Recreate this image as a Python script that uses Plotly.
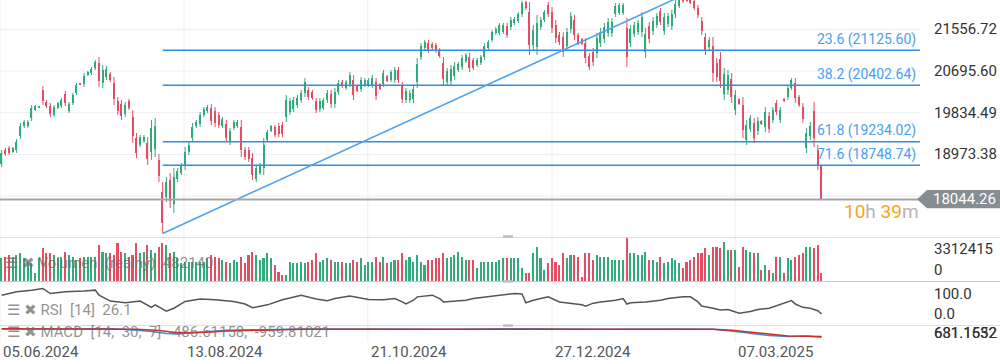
import plotly.graph_objects as go

# ---------------- data ----------------
TICK_LABELS = ["05.06.2024", "13.08.2024", "21.10.2024", "27.12.2024", "07.03.2025"]
TICK_POS = [-0.45, 48.7, 97.8, 147.0, 195.9]

OPEN = [18775,19065,19106,19023,19065,19354,19560,19560,19725,19890,19940,20304,20056,19973,19787,19932,19973,20221,19870,20035,
        20242,20440,20427,20613,20655,20758,20861,20448,20572,20634,20448,20076,20014,19808,20076,19746,19312,19168,19250,19209,
        19023,19085,18858,18197,18094,18445,17949,18466,18590,18755,19023,19312,19560,19601,19787,19870,19932,19870,19787,19560,
        19601,19230,19519,19560,19539,19065,19065,18899,18466,18590,18693,19271,19457,19539,19560,19581,19746,19849,19911,19994,
        20097,20242,20304,20262,20076,19911,19932,20097,20221,20014,20262,20469,20345,20427,20510,20386,20324,20407,20407,20407,
        20469,20427,20427,20593,20510,20510,20717,20386,20097,20097,20118,20469,20985,21171,21274,21253,21233,21130,20861,20469,
        20489,20593,20717,20778,20902,20985,20923,20820,20861,20985,21171,21336,21481,21481,21501,21625,21604,21687,21728,21873,
        22121,21914,21233,21191,21604,21749,22059,21914,21646,21439,21398,21212,21563,21749,21439,21357,21274,21006,21088,21068,
        21274,21357,21481,21481,21873,21894,21894,21584,21274,21460,21501,21501,21088,21625,21522,21646,21935,21522,21666,21625,
        21873,22038,22230,22250,22200,22140,21997,21728,21398,21191,21212,20861,20944,20221,20304,20531,19890,20118,19994,19271,
        19498,19622,19457,19663,19539,19767,19684,20035,19684,20118,20159,20345,20448,20159,19952,19106,19354,19870,19065,18734]
HIGH = [19065,19106,19147,19127,19292,19622,19684,19684,19994,19994,19973,20386,20097,20035,19994,20056,20138,20283,20056,20242,
        20448,20448,20655,20696,20778,20923,20985,20820,20799,20675,20572,20159,20097,20056,20118,19890,19415,19374,19374,19333,
        19684,19725,18982,18404,18507,18590,18693,18693,18796,19127,19230,19622,19684,19849,19952,19994,20014,19952,19849,19746,
        19684,19519,19684,19684,19684,19127,19127,19003,18755,18796,19312,19477,19581,19581,19622,19643,20200,20138,20159,20200,
        20304,20551,20366,20304,20138,20138,20138,20304,20304,20345,20510,20510,20510,20675,20613,20407,20572,20551,20551,20613,
        20551,20448,20717,20613,20717,20778,20778,20469,20345,20304,20407,20964,21274,21336,21336,21295,21274,21171,20985,20758,
        20820,20882,20882,21026,21068,21068,20964,20964,21026,21274,21336,21542,21604,21687,21687,21687,21811,21811,21914,22150,
        22150,22121,21646,21852,21811,21956,22121,22017,21749,21501,21501,21584,21914,21852,21481,21377,21377,21068,21171,21481,
        21584,21687,21790,21790,22100,22100,22100,21790,21646,21708,21749,21914,21584,21708,21811,21894,21997,21894,21894,21956,
        22162,22224,22265,22294,22245,22183,22059,21811,21481,21398,21398,20964,21088,20758,20717,20655,20304,20138,20159,19684,
        19787,19725,19746,19684,19952,19849,19952,20097,19952,20138,20407,20551,20551,20200,20035,19519,19643,20056,19168,18755]
LOW = [18713,18941,18961,19003,19003,19292,19519,19519,19663,19870,19932,19994,19932,19746,19746,19911,19932,19973,19828,19994,
       20200,20407,20366,20593,20613,20717,20366,20345,20510,20469,19994,19787,19684,19746,19890,19209,18899,19127,19209,18755,
       18858,18920,18404,17342,17991,17866,17763,18404,18548,18652,18961,19230,19519,19539,19746,19828,19581,19539,19519,19519,
       19230,19168,19477,19519,18920,18858,18817,18445,18404,18548,18548,19230,19436,19333,19333,19333,19643,19787,19849,19932,
       20035,20159,20097,20097,19828,19849,19890,20035,19932,19932,20200,20345,20304,20366,20097,20262,20262,20366,20366,20345,
       20097,20304,20366,20469,20469,20448,20448,20035,20035,20035,20035,20345,20923,21130,21068,21130,21068,20964,20407,20407,
       20407,20510,20675,20717,20861,20675,20717,20778,20820,20923,21130,21295,21439,21439,21460,21377,21542,21646,21687,21811,
       21956,21026,21130,21026,21542,21708,21811,21481,21274,21233,20985,21130,21481,21336,21233,21233,20861,20717,20799,20964,
       21191,21274,21398,21398,21811,21852,21852,20778,21191,21398,21439,21398,20964,21274,21439,21584,21646,21439,21604,21542,
       21790,21997,22100,22121,22079,21956,21790,21439,21026,21130,20469,20469,20345,20097,20200,20035,19787,19994,19312,19168,
       19436,19209,19374,19581,19436,19415,19622,19787,19622,20056,20097,20304,20035,19952,19622,19003,19271,19127,18652,18044.26]
CLOSE = [19003,18982,19003,19106,19230,19560,19643,19643,19932,19973,19965,20076,19973,19808,19952,20035,20097,20035,20014,20200,
         20407,20415,20593,20675,20737,20882,20489,20717,20737,20510,20118,19870,19767,19994,19932,19354,19003,19333,19333,18879,
         19519,19560,18528,17557,18404,18011,18507,18631,18755,19023,19168,19539,19643,19787,19911,19952,19663,19622,19581,19705,
         19312,19457,19643,19643,19065,18920,18879,18548,18693,18755,19168,19436,19560,19374,19395,19395,20097,20076,20097,20138,
         20242,20469,20159,20138,19890,20076,20097,20242,20014,20262,20448,20386,20469,20613,20200,20283,20510,20510,20510,20551,
         20180,20324,20655,20489,20675,20717,20510,20118,20283,20242,20324,20840,21212,21295,21130,21171,21109,21006,20531,20696,
         20737,20799,20840,20964,21026,20758,20758,20923,20985,21212,21295,21501,21563,21646,21646,21439,21749,21770,21873,22100,
         21997,21233,21542,21687,21749,21914,21873,21584,21377,21295,21088,21501,21832,21439,21274,21253,20964,20778,20882,21377,
         21501,21604,21708,21708,22038,22059,22059,20985,21563,21646,21687,21811,21460,21357,21728,21832,21708,21811,21832,21873,
         22079,22183,22140,22150,22100,21997,21852,21522,21109,21336,20655,20572,20489,20634,20613,20159,20200,20014,19477,19581,
         19725,19312,19663,19601,19849,19498,19890,19849,19890,20076,20345,20510,20138,19994,19705,19415,19560,19312,18755,18044.26]

VOLUME = [1746000,1875000,2003000,1875000,2003000,2131000,1746000,1489000,1361000,590000,1746000,2516000,2131000,2131000,2003000,1746000,1875000,2260000,2003000,1875000,
          1618000,1746000,1875000,1875000,1875000,1875000,2773000,2260000,2131000,2131000,2003000,2902000,2260000,2131000,1875000,2003000,2902000,2131000,2260000,2773000,
          2388000,2131000,2645000,2902000,2773000,2131000,2260000,1746000,1361000,1489000,1489000,1489000,1489000,1489000,1489000,1746000,2003000,1875000,1746000,1618000,
          1489000,1361000,1618000,1489000,1875000,1361000,2003000,2260000,2003000,1618000,1746000,2131000,1746000,1233000,719000,462000,462000,1489000,1361000,1361000,
          1489000,1361000,1489000,1618000,2131000,1489000,1618000,1746000,1618000,1489000,1489000,1489000,1361000,1361000,1618000,1489000,1746000,1233000,1489000,1489000,
          1875000,1489000,1875000,1361000,1489000,1618000,1618000,2131000,1618000,1875000,1489000,2003000,1489000,1233000,1618000,1618000,1746000,1746000,2131000,1746000,
          1875000,2003000,2260000,1875000,1618000,1618000,1618000,976000,1489000,1489000,1489000,1489000,1489000,1618000,1746000,1746000,1746000,1746000,1746000,976000,
          591000,591000,2131000,2645000,1746000,847000,1361000,1746000,1489000,1233000,2131000,1746000,2003000,2003000,1875000,334000,2131000,2131000,1618000,2003000,
          1875000,1875000,1875000,1618000,1618000,1618000,1618000,3287000,2131000,2131000,2003000,2003000,2260000,1618000,1618000,1489000,1875000,1361000,1489000,1746000,
          1618000,1361000,976000,1489000,1618000,1875000,2131000,2131000,2516000,2003000,2645000,2645000,2516000,3030000,2388000,2388000,2388000,1104000,2645000,2388000,
          2260000,2131000,2131000,847000,1233000,847000,591000,1875000,1875000,591000,1746000,1618000,1875000,2003000,2131000,2645000,2645000,2516000,2773000,591000]

RSI_X = [0,4,8,11,13,17,22,25,26,29,33,37,40,41,44,46,49,53,57,62,65,67,71,75,80,84,87,89,93,98,102,105,107,108,110,111,115,117,118,
         122,124,126,130,133,137,139,140,142,146,149,151,155,156,158,160,164,166,167,168,172,176,178,182,184,186,187,190,192,194,197,
         200,202,205,209,211,212,214,216,218,219]
RSI_V = [71,79,83,87,75,79,81,83,71,57,53,57,42,48,33,40,56,62,60,56,50,41,48,60,71,62,58,63,69,61,60,63,55,50,59,67,71,63,55,
         58,59,63,67,71,75,74,53,59,67,55,53,48,45,52,55,59,63,50,53,55,59,63,67,67,55,45,40,36,37,28,
         32,37,40,52,58,50,42,40,34,26.1]

MACD_X = [0,20,30,36,40,44,47,50,55,60,70,80,100,120,140,160,180,190,195,200,205,210,215,219]
MACD_V = [50,80,60,-100,-250,-500,-560,-450,-250,-100,-50,50,30,0,80,0,50,0,-200,-500,-750,-850,-800,-950]
SIGNAL_X = [0,30,36,42,46,50,55,60,70,80,100,120,140,160,180,190,195,200,205,210,215,219]
SIGNAL_V = [60,70,0,-150,-350,-400,-350,-200,-80,0,20,10,50,20,40,20,-100,-350,-600,-800,-820,-850]

FIB_PCT = [23.6, 38.2, 61.8, 71.6]
FIB_VAL = [21125.60, 20402.64, 19234.02, 18748.74]
SWING_LOW, SWING_LOW_IDX = 17342.44, 43
SWING_HIGH, SWING_HIGH_IDX = 22294.22, 183
LAST_PRICE = 18044.26
PRICE_TICKS = [21556.72, 20695.60, 19834.49, 18973.38, 18112.26, 17251.15]
PRICE_LABELS = ["21556.72", "20695.60", "19834.49", "18973.38", None, "17251.15"]
VOL_MAX = 3312415
RSI_LAST = 26.1
VOL_LAST = 482140
MACD_LAST = (-486.61158, -959.81021)

# ---------------- style ----------------
GREEN = "#31ab7b"
RED = "#e34e63"
W, H = 1000, 364
PLOT_R = 920
XR = [-0.454, 245.3]
FONT = "Roboto"


def ydom(top_px, bot_px):
    return [1 - bot_px / H, 1 - top_px / H]


def py(px):
    return 1 - px / H


fig = go.Figure()
N = len(CLOSE)
idx = list(range(N))
up = [CLOSE[i] >= OPEN[i] for i in idx]

# wicks + bodies
for flag, col in ((True, GREEN), (False, RED)):
    wx, wy = [], []
    for i in idx:
        if up[i] == flag:
            wx += [i, i, None]
            wy += [LOW[i], HIGH[i], None]
    fig.add_trace(go.Scatter(x=wx, y=wy, mode="lines", line=dict(color=col, width=1),
                             xaxis="x", yaxis="y", hoverinfo="skip", showlegend=False))
    bx = [i for i in idx if up[i] == flag]
    fig.add_trace(go.Bar(x=bx, base=[min(OPEN[i], CLOSE[i]) for i in bx],
                         y=[max(abs(CLOSE[i] - OPEN[i]), 8) for i in bx],
                         width=0.38, marker=dict(color=col, line=dict(width=0)),
                         xaxis="x", yaxis="y", showlegend=False, hoverinfo="skip"))

# volume
fig.add_trace(go.Bar(x=idx, y=VOLUME, width=0.42,
                     marker=dict(color=[GREEN if u else RED for u in up], line=dict(width=0)),
                     xaxis="x2", yaxis="y2", showlegend=False, hoverinfo="skip"))
# RSI
fig.add_trace(go.Scatter(x=RSI_X, y=RSI_V, mode="lines", line=dict(color="#555555", width=1.5),
                         xaxis="x3", yaxis="y3", showlegend=False, hoverinfo="skip"))
# MACD
fig.add_trace(go.Scatter(x=MACD_X, y=MACD_V, mode="lines", line=dict(color="#3d8fd6", width=1.5),
                         xaxis="x4", yaxis="y4", showlegend=False, hoverinfo="skip"))
fig.add_trace(go.Scatter(x=SIGNAL_X, y=SIGNAL_V, mode="lines", line=dict(color="#d42a2a", width=1.5),
                         xaxis="x4", yaxis="y4", showlegend=False, hoverinfo="skip"))

xcommon = dict(range=XR, domain=[0, PLOT_R / W], showgrid=False, zeroline=False,
               showticklabels=False, ticks="", showline=False, fixedrange=True)
ycommon = dict(showgrid=False, zeroline=False, showticklabels=False, ticks="", showline=False, fixedrange=True)

fig.update_layout(
    width=W, height=H, margin=dict(l=0, r=0, t=0, b=0),
    paper_bgcolor="white", plot_bgcolor="white", barmode="overlay", bargap=0,
    font=dict(family=FONT, color="#333333"),
    xaxis=dict(**xcommon, anchor="y"),
    xaxis2=dict(**xcommon, anchor="y2", matches="x"),
    xaxis3=dict(**xcommon, anchor="y3", matches="x"),
    xaxis4=dict(**xcommon, anchor="y4", matches="x"),
    yaxis=dict(**ycommon, domain=ydom(0, 237), range=[17268, 22162], anchor="x"),
    yaxis2=dict(**ycommon, domain=ydom(238, 281), range=[0, VOL_MAX], anchor="x2"),
    yaxis3=dict(**ycommon, domain=ydom(283, 325), range=[0, 100], anchor="x3"),
    yaxis4=dict(**ycommon, domain=ydom(326, 341), range=[-1400, 400], anchor="x4"),
)

shapes = []
for t in TICK_POS:
    shapes.append(dict(type="line", xref="x", yref="paper", x0=t, x1=t, y0=py(342), y1=1,
                       line=dict(color="#eeeeee", width=1), layer="below"))
for p in PRICE_TICKS:
    shapes.append(dict(type="line", xref="paper", yref="y", x0=0, x1=PLOT_R / W, y0=p, y1=p,
                       line=dict(color="#eeeeee", width=1), layer="below"))
for ypx, col in ((237.5, "#dddddd"), (281.5, "#c8c8c8"), (325.5, "#e0e0e0")):
    shapes.append(dict(type="line", xref="paper", yref="paper", x0=0, x1=1, y0=py(ypx), y1=py(ypx),
                       line=dict(color=col, width=1)))
for ypx in (236.5, 281.5, 325.5):
    shapes.append(dict(type="rect", xref="paper", yref="paper", x0=503 / W, x1=513 / W,
                       y0=py(ypx + 1.2), y1=py(ypx - 1.2), fillcolor="#bdbdbd", line=dict(width=0)))
for v in FIB_VAL:
    shapes.append(dict(type="line", xref="x", yref="y", x0=SWING_LOW_IDX, x1=XR[1], y0=v, y1=v,
                       line=dict(color="#2f8ee0", width=1.6)))
shapes.append(dict(type="line", xref="x", yref="y", x0=SWING_LOW_IDX, y0=SWING_LOW,
                   x1=SWING_HIGH_IDX, y1=SWING_HIGH, line=dict(color="#4ba3f2", width=1.6)))
shapes.append(dict(type="line", xref="paper", yref="y", x0=0, x1=918 / W, y0=LAST_PRICE, y1=LAST_PRICE,
                   line=dict(color="#a5a5a5", width=2)))
ty = 199.3
shapes.append(dict(type="path", xref="paper", yref="paper",
                   path=f"M {917/W} {py(ty)} L {927/W} {py(ty-9.3)} L 1 {py(ty-9.3)} L 1 {py(ty+9)} L {927/W} {py(ty+9)} Z",
                   fillcolor="#868e92", line=dict(width=0)))
fig.update_layout(shapes=shapes)

ann = []
for p, lab in zip(PRICE_TICKS, PRICE_LABELS):
    if lab is None:
        continue
    ann.append(dict(xref="paper", yref="y", x=932 / W, y=p, text=lab, showarrow=False,
                    xanchor="left", yanchor="bottom" if p == PRICE_TICKS[-1] else "middle",
                    font=dict(size=15, color="#333333")))
ann.append(dict(xref="paper", yref="y", x=931 / W, y=LAST_PRICE, text=f"{LAST_PRICE:.2f}", showarrow=False,
                xanchor="left", yanchor="middle", font=dict(size=15, color="white")))
for pct, v in zip(FIB_PCT, FIB_VAL):
    ann.append(dict(xref="paper", yref="y", x=918 / W, y=v, yshift=11, text=f"{pct} ({v:.2f})",
                    showarrow=False, xanchor="right", yanchor="middle", font=dict(size=14, color="#4a9ff0")))
ann.append(dict(xref="paper", yref="paper", x=921 / W, y=py(211), showarrow=False, xanchor="right",
                yanchor="middle",
                text="<span style='color:#f5a524'>10</span><span style='color:#b5b5b5'>h</span> "
                     "<span style='color:#f5a524'>39</span><span style='color:#b5b5b5'>m</span>",
                font=dict(size=19)))
ann.append(dict(xref="paper", yref="y2", x=932 / W, y=VOL_MAX, text=str(VOL_MAX), showarrow=False,
                xanchor="left", yanchor="top", font=dict(size=15, color="#333333")))
ann.append(dict(xref="paper", yref="y2", x=932 / W, y=0, text="0", showarrow=False,
                xanchor="left", yanchor="bottom", font=dict(size=15, color="#333333")))
ann.append(dict(xref="paper", yref="y3", x=932 / W, y=100, text="100.0", showarrow=False,
                xanchor="left", yanchor="top", font=dict(size=15, color="#333333")))
ann.append(dict(xref="paper", yref="y3", x=932 / W, y=0, text="0.0", showarrow=False,
                xanchor="left", yanchor="bottom", font=dict(size=15, color="#333333")))
for lab in ("631.1552", "681.1632"):
    ann.append(dict(xref="paper", yref="paper", x=932 / W, y=py(333), text=lab, showarrow=False,
                    xanchor="left", yanchor="middle", font=dict(size=15, color="#333333")))
GREY = "rgba(110,110,110,0.75)"
ann.append(dict(xref="paper", yref="paper", x=3 / W, y=py(263), showarrow=False, xanchor="left",
                yanchor="middle", text=f"☰ ✖ Volumen  (reálný)  {VOL_LAST}", font=dict(size=15, color=GREY)))
ann.append(dict(xref="paper", yref="paper", x=5 / W, y=py(310), showarrow=False, xanchor="left",
                yanchor="middle", text=f"☰ ✖ RSI  [14]  {RSI_LAST}", font=dict(size=15, color=GREY)))
ann.append(dict(xref="paper", yref="paper", x=5 / W, y=py(332), showarrow=False, xanchor="left",
                yanchor="middle", text=f"☰ ✖ MACD  [14,  30,  7]  {MACD_LAST[0]},  {MACD_LAST[1]}",
                font=dict(size=15, color=GREY)))
for t, lab in zip(TICK_POS, TICK_LABELS):
    ann.append(dict(xref="x", yref="paper", x=t, y=py(352), text=lab, showarrow=False,
                    xanchor="left", yanchor="middle", xshift=1, font=dict(size=15, color="#555555")))
fig.update_layout(annotations=ann)

fig.write_html("out.html", config={"displayModeBar": False},
               post_script="document.body.style.margin='0';document.body.style.overflow='hidden';")
